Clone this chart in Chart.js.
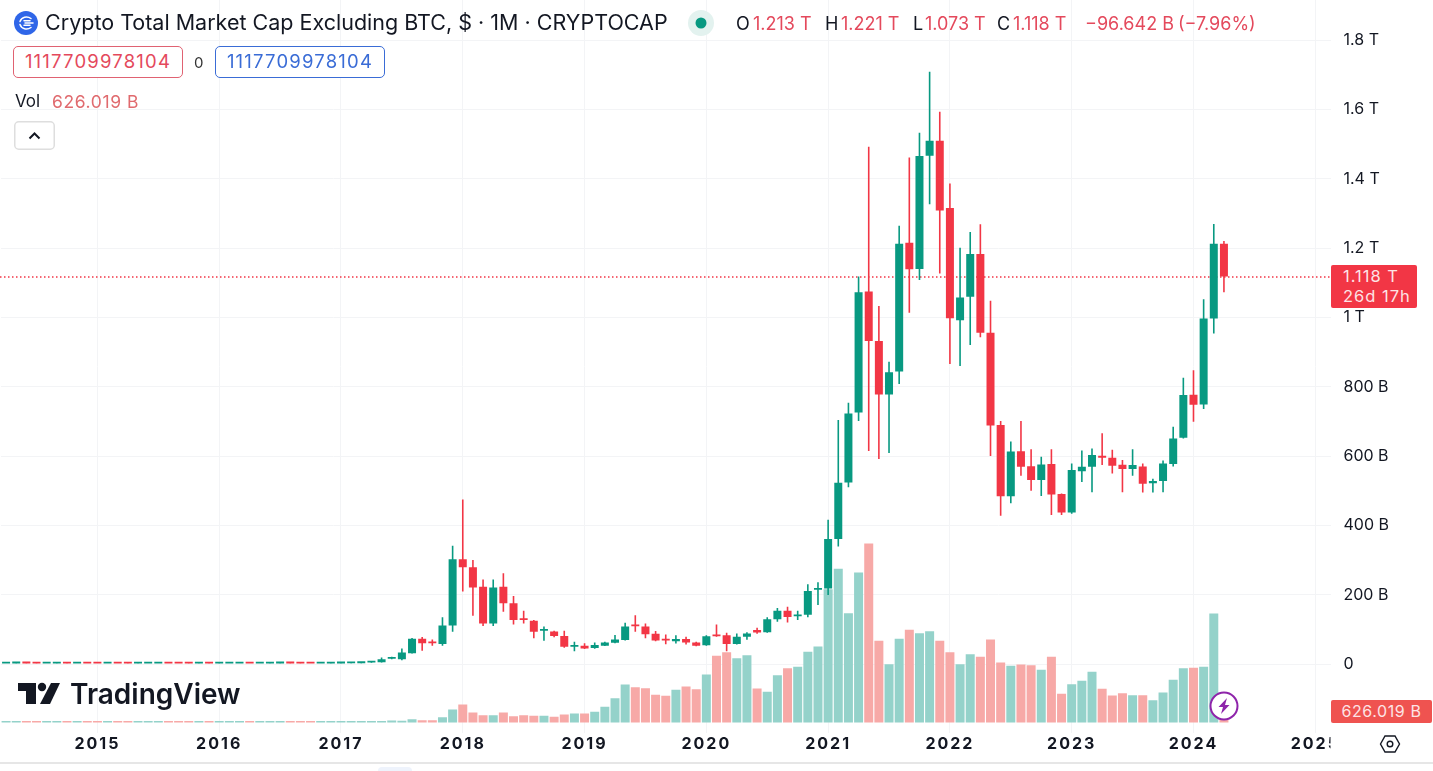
<!DOCTYPE html>
<html>
<head>
<meta charset="utf-8">
<title>Crypto Total Market Cap Excluding BTC</title>
<script src="https://cdn.jsdelivr.net/npm/chart.js@4/dist/chart.umd.js"></script>
<style>
  html, body { margin: 0; padding: 0; background: #fff; overflow: hidden; }
  body { width: 1433px; height: 771px; position: relative; font-family: Inter, "Noto Sans", sans-serif; color: #131722; }
  #chart { position: absolute; left: 0; top: 0; }
  .abs { position: absolute; white-space: nowrap; line-height: 1; }
  .red { color: #e4495c; }
  .box { box-sizing: border-box; height: 32px; width: 170px; border: 1.5px solid; border-radius: 5px; font-size: 18.5px; letter-spacing: 1.2px; line-height: 29px; text-align: center; background: #fff; }
  .tag { position: absolute; box-sizing: border-box; color: #fde3e5; font-size: 16.5px; letter-spacing: 1px; }
</style>
</head>
<body>
<canvas id="chart" width="1433" height="771"></canvas>

<!-- header -->
<svg class="abs" style="left:14px;top:11px" width="24" height="24" viewBox="0 0 24 24">
  <circle cx="12" cy="12" r="12" fill="#2f66e8"/>
  <path d="M17 7.5C13 4.5 7.5 6 6 10.5M19 12H11M17 16.5C13 19.5 7.5 18 6 13.5M16 9.8H10M16 14.2H10" stroke="#fff" stroke-width="1.5" fill="none" stroke-linecap="round"/>
</svg>
<div class="abs" style="left:45px;top:12px;font-size:21.5px">Crypto Total Market Cap Excluding BTC, $ · 1M · CRYPTOCAP</div>
<svg class="abs" style="left:688px;top:10px" width="26" height="26"><circle cx="13" cy="13" r="13" fill="#e3f2ef"/><circle cx="13" cy="13" r="5.5" fill="#089981"/></svg>
<div class="abs" style="left:736px;top:15px;font-size:18px">O</div>
<div class="abs red" style="left:753px;top:15px;font-size:18px">1.213 T</div>
<div class="abs" style="left:825px;top:15px;font-size:18px">H</div>
<div class="abs red" style="left:841px;top:15px;font-size:18px">1.221 T</div>
<div class="abs" style="left:913px;top:15px;font-size:18px">L</div>
<div class="abs red" style="left:925px;top:15px;font-size:18px">1.073 T</div>
<div class="abs" style="left:997px;top:15px;font-size:18px">C</div>
<div class="abs red" style="left:1013px;top:15px;font-size:18px">1.118 T</div>
<div class="abs red" style="left:1085px;top:15px;font-size:18px">−96.642 B</div>
<div class="abs red" style="left:1178px;top:15px;font-size:18px">(−7.96%)</div>

<div class="abs box" style="left:13px;top:46px;color:#e4495c;border-color:#e06272">1117709978104</div>
<div class="abs" style="left:194px;top:55px;font-size:15px;color:#333">0</div>
<div class="abs box" style="left:215px;top:46px;color:#3a6cd6;border-color:#3a6cd6">1117709978104</div>
<div class="abs" style="left:15px;top:93px;font-size:17px">Vol</div>
<div class="abs" style="left:52px;top:93px;font-size:17.5px;letter-spacing:0.6px;color:#e06a6e">626.019 B</div>
<svg class="abs" style="left:14px;top:121px" width="41" height="29">
  <rect x="0.75" y="0.75" width="39.5" height="27.5" rx="4" fill="#fff" stroke="#dedede" stroke-width="1.5"/>
  <path d="M15.5 17.5L20.5 12.5L25.5 17.5" stroke="#131722" stroke-width="2" fill="none"/>
</svg>

<!-- logo -->
<svg class="abs" style="left:17px;top:682px" width="44" height="24" viewBox="0 0 44 24">
  <path d="M1 1H19V22H9V9H1Z" fill="#131722"/>
  <circle cx="25" cy="5" r="4.2" fill="#131722"/>
  <path d="M34 1H43L33 22H23Z" fill="#131722"/>
</svg>
<div class="abs" style="left:70px;top:680px;font-size:28px;font-weight:600;color:#131722">TradingView</div>

<!-- price and volume tags -->
<div class="tag" style="left:1331px;top:265px;width:86px;height:43px;background:#f23645;border-radius:2px;padding:2px 0 0 12px;line-height:19.5px">1.118 T<br>26d 17h</div>
<div class="tag" style="left:1331px;top:700px;width:101px;height:23px;background:#ef5350;border-radius:2px;font-size:16px;letter-spacing:0.6px;line-height:23px;text-align:center">626.019 B</div>

<svg class="abs" style="left:1209px;top:691px" width="30" height="30" viewBox="0 0 30 30">
  <circle cx="15" cy="15" r="13.5" fill="#fff" stroke="#8e24aa" stroke-width="2"/>
  <path d="M18 7L9.5 16H14L12 23L20.5 14H16Z" fill="#8e24aa"/>
</svg>
<svg class="abs" style="left:1379px;top:734px" width="22" height="20" viewBox="0 0 22 20">
  <path d="M1.5 10L6 2H16L20.5 10L16 18H6Z" fill="none" stroke="#131722" stroke-width="1.4"/>
  <circle cx="11" cy="10" r="2.8" fill="none" stroke="#131722" stroke-width="1.4"/>
</svg>
<div class="abs" style="left:0;top:762px;width:1433px;height:2px;background:#e6e6e6"></div>
<div class="abs" style="left:378px;top:767px;width:34px;height:4px;background:#eef3fc;border-radius:6px 6px 0 0"></div>

<script>
'use strict';

// Mesi, da apr 2014 a feb 2025 (gli ultimi sono vuoti)
const months = [
  '2014-04','2014-05','2014-06','2014-07','2014-08','2014-09','2014-10','2014-11','2014-12',
  '2015-01','2015-02','2015-03','2015-04','2015-05','2015-06','2015-07','2015-08','2015-09','2015-10','2015-11','2015-12',
  '2016-01','2016-02','2016-03','2016-04','2016-05','2016-06','2016-07','2016-08','2016-09','2016-10','2016-11','2016-12',
  '2017-01','2017-02','2017-03','2017-04','2017-05','2017-06','2017-07','2017-08','2017-09','2017-10','2017-11','2017-12',
  '2018-01','2018-02','2018-03','2018-04','2018-05','2018-06','2018-07','2018-08','2018-09','2018-10','2018-11','2018-12',
  '2019-01','2019-02','2019-03','2019-04','2019-05','2019-06','2019-07','2019-08','2019-09','2019-10','2019-11','2019-12',
  '2020-01','2020-02','2020-03','2020-04','2020-05','2020-06','2020-07','2020-08','2020-09','2020-10','2020-11','2020-12',
  '2021-01','2021-02','2021-03','2021-04','2021-05','2021-06','2021-07','2021-08','2021-09','2021-10','2021-11','2021-12',
  '2022-01','2022-02','2022-03','2022-04','2022-05','2022-06','2022-07','2022-08','2022-09','2022-10','2022-11','2022-12',
  '2023-01','2023-02','2023-03','2023-04','2023-05','2023-06','2023-07','2023-08','2023-09','2023-10','2023-11','2023-12',
  '2024-01','2024-02','2024-03','2024-04','2024-05','2024-06','2024-07','2024-08','2024-09','2024-10','2024-11','2024-12',
  '2025-01','2025-02'
];

// Valori in miliardi di dollari, una riga per anno
const opens = [
  1.5,1.7,1.9,1.75,1.55,1.65,1.8,1.6,1.7,
  1.5,1.3,1.45,1.3,1.2,1.3,1.4,1.5,1.35,1.25,1.2,1.3,
  1.2,1.3,1.4,1.7,1.55,1.65,1.75,1.85,1.75,1.65,1.55,1.65,
  1.75,2,2.5,4,5,15,14,31,73,62,58,111,
  302,279,223,117,223,175,132,125,96,94,81,50,
  53,46,53,61,69,111,108,87,71,66,72,62,
  54,83,83,58,79,98,92,129,154,138,142,214,
  218,361,524,726,1075,932,778,844,1216,1140,1467,1510,
  1316,992,1060,1183,956,690,484,614,571,531,577,491,
  437,556,569,601,595,575,563,570,522,528,577,653,
  777,749,997,1213
];
const closes = [
  1.7,1.9,1.75,1.55,1.65,1.8,1.6,1.7,1.5,
  1.3,1.45,1.3,1.2,1.3,1.4,1.5,1.35,1.25,1.2,1.3,1.2,
  1.3,1.4,1.7,1.55,1.65,1.75,1.85,1.75,1.65,1.55,1.65,1.75,
  2,2.5,4,5,14,18,33,73,60,60,111,302,
  279,221,117,221,175,127,127,93,98,81,50,52,
  45,55,62,71,108,109,86,68,68,72,62,53,
  80,80,58,79,88,91,129,154,136,142,211,218,
  361,523,723,1073,932,778,842,1213,1139,1466,1510,1309,
  998,1058,1183,956,688,484,613,569,531,576,489,437,
  560,569,603,595,572,563,574,520,528,579,651,776,
  748,997,1213,1118
];
const highs = [
  1.8,2,2,1.85,1.75,1.9,1.9,1.8,1.8,
  1.6,1.55,1.55,1.4,1.4,1.5,1.6,1.6,1.45,1.35,1.4,1.4,
  1.4,1.5,1.8,1.8,1.75,1.85,1.95,1.95,1.85,1.75,1.75,1.85,
  2.1,2.6,4.2,5.5,19,21,45,75,78,71,135,341,
  475,300,244,244,262,196,154,127,108,96,96,64,
  60,62,64,84,119,141,117,95,85,83,79,64,
  83,114,90,88,92,105,135,162,165,154,230,236,
  416,704,754,1118,1493,1033,872,1265,1462,1533,1709,1594,
  1387,1201,1247,1269,1048,701,642,701,620,598,620,492,
  579,616,622,666,618,589,620,579,535,587,685,826,
  848,1053,1270,1221
];
const lows = [
  1.4,1.6,1.65,1.5,1.45,1.55,1.5,1.5,1.4,
  1.2,1.2,1.2,1.1,1.1,1.2,1.3,1.25,1.15,1.1,1.1,1.1,
  1.1,1.2,1.3,1.45,1.45,1.55,1.65,1.65,1.55,1.45,1.45,1.55,
  1.6,1.9,2.4,3.8,4,14,11,30,38,53,53,93,
  209,139,110,110,151,114,117,74,67,77,47,37,
  43,44,52,60,68,93,74,66,57,59,56,51,
  53,79,37,56,70,87,90,122,120,127,135,170,
  199,339,510,701,615,592,609,808,1014,1108,1327,1127,
  866,860,921,943,600,428,464,543,500,485,430,430,
  434,525,496,574,550,496,543,495,495,496,570,651,
  699,736,954,1073
];
const volumes = [
  25,30,28,22,24,26,28,24,26,
  24,26,28,24,26,28,30,28,26,24,26,28,
  28,30,34,30,32,32,34,30,28,26,28,30,
  30,30,34,40,60,114,95,190,133,133,304,741,
  1026,570,418,418,570,361,418,380,380,323,456,513,
  513,608,893,1387,2166,2014,1957,1577,1520,1862,2052,1900,
  2736,3800,4009,3667,3838,1938,1748,2698,3097,3173,4028,4332,
  7600,8759,6232,8550,10203,4655,3325,4769,5282,5092,5206,4655,
  4009,3325,3895,3743,4731,3420,3230,3306,3268,3002,3743,1634,
  2185,2375,2888,1919,1539,1672,1558,1558,1273,1710,2432,3097,
  3116,3173,6213,626
];

const priceTicks = [0, 200, 400, 600, 800, 1000, 1200, 1400, 1600, 1800];
const priceLabels = ['0', '200 B', '400 B', '600 B', '800 B', '1 T', '1.2 T', '1.4 T', '1.6 T', '1.8 T'];
const lastClose = 1117.71;

const UP = '#089981', DOWN = '#f23645', UP_VOL = '#94d2ca', DOWN_VOL = '#f7a9a7';
const isUp = i => closes[i] >= opens[i];

// Linea punteggiata del prezzo, e le etichette degli anni un po' spaziate
const overlay = {
  id: 'overlay',
  beforeDraw(chart) {
    const { ctx, scales } = chart;
    if (scales.x.spaced) return;
    const drawLabels = scales.x.drawLabels.bind(scales.x);
    scales.x.drawLabels = area => {
      ctx.letterSpacing = '2px';
      drawLabels(area);
      ctx.letterSpacing = '0px';
    };
    scales.x.spaced = true;
  },
  beforeDatasetsDraw(chart) {
    const { ctx, chartArea, scales } = chart;
    const y = Math.round(scales.y.getPixelForValue(lastClose));
    ctx.save();
    ctx.strokeStyle = '#f23645';
    ctx.lineWidth = 1.5;
    ctx.setLineDash([1.5, 2.5]);
    ctx.beginPath();
    ctx.moveTo(0, y);
    ctx.lineTo(chartArea.right, y);
    ctx.stroke();
    ctx.restore();
  },
  afterDraw(chart) {
    // il 2025 è tagliato dalla colonna dei prezzi
    const { ctx, chartArea } = chart;
    ctx.save();
    ctx.fillStyle = '#fff';
    ctx.fillRect(chartArea.right, chartArea.bottom, 1433 - chartArea.right, 28);
    ctx.restore();
  }
};

// Niente margini automatici per le etichette: l'area del grafico arriva ai bordi
function noPadding(axis) {
  axis.paddingTop = axis.paddingBottom = axis.paddingLeft = axis.paddingRight = 0;
}

new Chart(document.getElementById('chart'), {
  type: 'bar',
  plugins: [overlay],
  data: {
    labels: months,
    datasets: [
      {
        label: 'Corpo', yAxisID: 'y', order: 1, grouped: false, barThickness: 8, minBarLength: 1.8,
        data: opens.map((o, i) => [o, closes[i]]),
        backgroundColor: opens.map((o, i) => isUp(i) ? UP : DOWN), inflateAmount: 0
      },
      {
        label: 'Stoppino', yAxisID: 'y', order: 2, grouped: false, barThickness: 1.6,
        data: lows.map((l, i) => [l, highs[i]]),
        backgroundColor: lows.map((l, i) => isUp(i) ? UP : DOWN), inflateAmount: 0
      },
      {
        label: 'Vol', yAxisID: 'yVol', order: 3, grouped: false, barThickness: 9, minBarLength: 1.5,
        data: volumes,
        backgroundColor: volumes.map((v, i) => isUp(i) ? UP_VOL : DOWN_VOL), inflateAmount: 0
      }
    ]
  },
  options: {
    responsive: false,
    animation: false,
    layout: { padding: { left: 1 } },
    plugins: { legend: { display: false }, tooltip: { enabled: false } },
    scales: {
      x: {
        grid: { color: '#f3f4f6', offset: false, drawTicks: false },
        border: { display: false },
        afterBuildTicks: axis => { axis.ticks = axis.ticks.filter(t => months[t.value].endsWith('-01')); },
        afterFit: axis => { axis.height = 38; noPadding(axis); },
        ticks: {
          autoSkip: false, maxRotation: 0, padding: 2, color: '#131722',
          font: { family: 'Inter', size: 16, weight: '700' },
          callback: v => months[v].slice(0, 4)
        }
      },
      y: {
        position: 'right',
        min: -199.1, max: 1916.3,
        grid: { color: '#f3f4f6', drawTicks: false },
        border: { display: false },
        afterBuildTicks: axis => { axis.ticks = priceTicks.map(value => ({ value })); },
        afterFit: axis => { axis.width = 102.5; noPadding(axis); },
        ticks: {
          padding: 13, color: '#131722',
          font: { family: 'Inter', size: 16 },
          callback: v => priceLabels[priceTicks.indexOf(v)]
        }
      },
      yVol: { display: false, min: -598, max: 41182 }
    }
  }
});
</script>
</body>
</html>
